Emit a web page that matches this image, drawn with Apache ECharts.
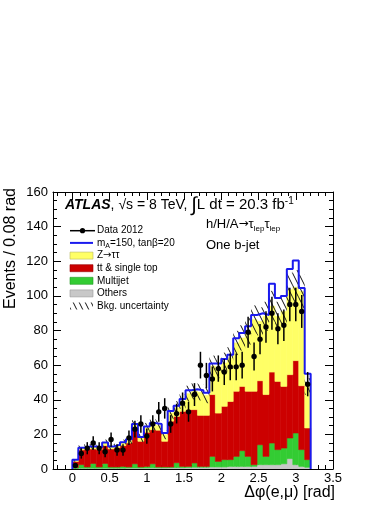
<!DOCTYPE html>
<html><head><meta charset="utf-8">
<script src="https://cdn.jsdelivr.net/npm/echarts@6/dist/echarts.min.js"></script>
<style>html,body{margin:0;padding:0;background:#fff}#c{width:390px;height:505px}</style>
</head><body><div id="c"></div>
<script>
// ---- data (bins of 0.08 rad) ----
const BIN_WIDTH = 0.08;
const binLowEdges = [0.00,0.08,0.16,0.24,0.32,0.40,0.48,0.56,0.64,0.72,0.80,0.88,0.96,1.04,1.12,1.20,1.28,1.36,1.44,1.52,1.60,1.68,1.76,1.84,1.92,2.00,2.08,2.16,2.24,2.32,2.40,2.48,2.56,2.64,2.72,2.80,2.88,2.96,3.04,3.12];
const others   = [0.3,0.5,0.5,0.5,0.5,0.5,0.5,0.5,0.5,0.6,0.6,0.6,0.6,0.7,0.7,0.7,0.8,0.8,0.8,0.9,1.0,1.0,1.0,1.2,1.2,1.2,1.5,1.5,1.5,1.5,1.5,2.5,2.5,2.5,2.5,3.0,6.0,2.5,1.5,1.0];
const multijet = [0.5,2.0,0.7,2.7,0.7,2.7,0.7,0.7,1.0,0.6,2.4,0.6,0.9,2.3,0.5,0.5,0.4,2.8,0.7,0.6,2.5,0.5,0.5,6.1,3.2,4.2,3.9,5.8,9.1,5.8,1.0,11.5,4.8,12.5,8.7,9.1,11.9,18.3,9.7,4.4];
const ttbar    = [3.5,8.5,10.4,8.4,10.0,10.3,10.4,11.1,12.0,13.8,20.7,14.8,19.7,19.7,21.2,14.8,26.4,26.8,31.8,32.8,30.8,29.5,29.5,35.7,27.9,30.8,33.6,37.6,37.1,37.6,42.4,37.0,35.7,41.0,39.4,35.6,36.6,41.8,36.9,18.3];
const ztautau  = [0.7,1.0,1.1,1.1,0.8,1.5,1.1,1.2,1.5,1.6,1.5,2.0,2.5,2.9,2.6,3.8,4.8,4.9,5.8,9.2,10.6,13.3,11.5,16.5,26.0,25.0,25.1,27.9,28.0,34.6,41.4,34.3,45.2,38.0,37.6,43.3,49.1,42.4,54.5,24.0];
const bkgUnc   = [0.8,1.6,1.7,1.7,1.6,2.0,1.7,1.8,2.0,2.2,3.0,2.4,2.9,3.1,3.0,2.6,3.6,3.9,4.2,4.6,4.7,4.7,4.5,6.0,5.8,6.0,6.3,7.0,7.3,7.6,8.2,8.1,8.4,8.9,8.4,8.7,9.8,9.9,9.7,4.8];
const signalPlusBkg = [5.4,12.3,13.0,13.0,12.5,15.3,13.0,14.0,15.5,17.2,26.0,18.5,24.5,26.5,26.0,20.8,33.5,36.5,40.5,45.5,46.0,45.5,44.0,61.0,61.0,63.5,66.0,75.5,78.5,82.4,89.0,90.0,89.0,107.0,98.8,100.0,115.5,120.5,104.6,55.0];
const data2012 = [2,9,12,15,12,10,17,11,11,18,23,26,19,26,33,35,26,32,38,33,43,60,54,52,58,56,59,59,60,79,65,75,82,90,81,83,95,95,91,49];
const dataErr  = [1.4,3.0,3.5,3.9,3.5,3.2,4.1,3.3,3.3,4.2,4.8,5.1,4.4,5.1,5.7,5.9,5.1,5.7,6.2,5.7,6.6,7.7,7.3,7.2,7.6,7.5,7.7,7.7,7.7,8.9,8.1,8.7,9.1,9.5,9.0,9.1,9.7,9.7,9.5,7.0];
const xMajorTicks = [0,0.5,1,1.5,2,2.5,3,3.5];
const yMajorTicks = [0,20,40,60,80,100,120,140,160];
const X_MIN = -0.26, X_MAX = 3.5, Y_MIN = 0, Y_MAX = 160;

const FONT = '"Liberation Sans", Arial, Helvetica, sans-serif';
const AFONT = '"DejaVu Sans", sans-serif';
const C_Z = '#ffff66', C_TT = '#cc0000', C_MJ = '#33cc33', C_OTH = '#c8c8c8', C_SIG = '#1a1aee';

// minor tick positions
const xMinorTicks = [];
for (let i = -2; i <= 35; i++) { if (i % 5 !== 0) xMinorTicks.push(+(i * 0.1).toFixed(1)); }
const yMinorTicks = [];
for (let v = 5; v < 160; v += 5) { if (v % 20 !== 0) yMinorTicks.push(v); }

// stacking
const n = binLowEdges.length;
const s0 = new Array(n).fill(0);
const s1 = others.map((v, i) => s0[i] + v);
const s2 = multijet.map((v, i) => s1[i] + v);
const s3 = ttbar.map((v, i) => s2[i] + v);
const s4 = ztautau.map((v, i) => s3[i] + v);

// hatch pattern
const hatch = document.createElement('canvas');
hatch.width = 6; hatch.height = 12;
(function () {
  const g = hatch.getContext('2d');
  g.strokeStyle = '#111'; g.lineWidth = 1.0;
  g.beginPath();
  g.moveTo(-6, 0); g.lineTo(0, 12);
  g.moveTo(0, 0); g.lineTo(6, 12);
  g.moveTo(6, 0); g.lineTo(12, 12);
  g.stroke();
})();
const hatchFill = { type: 'pattern', image: hatch, repeat: 'repeat' };

function rectSeries(name, lo, hi, fill, z, stroke) {
  return {
    type: 'custom', name, z, silent: true, clip: true,
    xAxisIndex: 0, yAxisIndex: 0,
    data: binLowEdges.map((x, i) => [x, x + BIN_WIDTH, lo[i], hi[i]]),
    encode: { x: [0, 1], y: [2, 3] },
    renderItem: (params, api) => {
      const a = api.coord([api.value(0), api.value(3)]);
      const b = api.coord([api.value(1), api.value(2)]);
      return {
        type: 'rect',
        shape: { x: a[0], y: a[1], width: b[0] - a[0], height: b[1] - a[1] },
        style: stroke ? { fill, stroke: fill, lineWidth: 0.6 } : { fill }
      };
    }
  };
}

const blueLine = [[0, 0]];
binLowEdges.forEach((x, i) => blueLine.push([x, signalPlusBkg[i]]));
blueLine.push([binLowEdges[n - 1] + BIN_WIDTH, signalPlusBkg[n - 1]]);
blueLine.push([binLowEdges[n - 1] + BIN_WIDTH, 0]);

function xAxisDef(pos, ticks, len, withLabel, withLine) {
  return {
    type: 'value', min: X_MIN, max: X_MAX, position: pos,
    axisLine: { show: withLine, onZero: false, lineStyle: { color: '#000', width: 1 } },
    axisTick: { show: true, inside: true, length: len, customValues: ticks, lineStyle: { color: '#000', width: 1 } },
    axisLabel: withLabel ? { show: true, customValues: ticks, color: '#000', fontSize: 13, fontFamily: FONT, margin: 3, formatter: v => String(v) } : { show: false },
    splitLine: { show: false }, minorTick: { show: false }
  };
}
function yAxisDef(pos, ticks, len, withLabel, withLine) {
  return {
    type: 'value', min: Y_MIN, max: Y_MAX, position: pos,
    axisLine: { show: withLine, onZero: false, lineStyle: { color: '#000', width: 1 } },
    axisTick: { show: true, inside: true, length: len, customValues: ticks, lineStyle: { color: '#000', width: 1 } },
    axisLabel: withLabel ? { show: true, customValues: ticks, color: '#000', fontSize: 13, fontFamily: FONT, margin: 5, formatter: v => String(v) } : { show: false },
    splitLine: { show: false }, minorTick: { show: false }
  };
}

// legend graphics
const LX = 70, LW = 23, LTX = 97;
const legendRows = [230.7, 242.9, 255.6, 268.2, 280.8, 293.4, 306.0];
const legendG = [];
legendG.push({ type: 'line', shape: { x1: LX, y1: legendRows[0], x2: LX + 25, y2: legendRows[0] }, style: { stroke: '#000', lineWidth: 1.5 } });
legendG.push({ type: 'circle', shape: { cx: LX + 12.5, cy: legendRows[0], r: 2.6 }, style: { fill: '#000' } });
legendG.push({ type: 'line', shape: { x1: LX, y1: legendRows[1], x2: LX + LW, y2: legendRows[1] }, style: { stroke: C_SIG, lineWidth: 2 } });
[[C_Z, '#b8b860'], [C_TT, '#990000'], [C_MJ, '#229922'], [C_OTH, '#999999']].forEach((c, i) => {
  legendG.push({ type: 'rect', shape: { x: LX, y: legendRows[i + 2] - 3.5, width: LW, height: 7 }, style: { fill: c[0], stroke: c[1], lineWidth: 0.6 } });
});
legendG.push({ type: 'rect', shape: { x: LX, y: legendRows[6] - 3.5, width: LW, height: 7 }, style: { fill: hatchFill } });
const legendTexts = [
  '{n|Data 2012}',
  '{n|m}{s|A}{n|=150, tanβ=20}',
  '{n|Z}{r|→}{n|ττ}',
  '{n|tt & single top}',
  '{n|Multijet}',
  '{n|Others}',
  '{n|Bkg. uncertainty}'
];
legendTexts.forEach((t, i) => {
  legendG.push({
    type: 'text', x: LTX, y: legendRows[i],
    style: {
      text: t, textAlign: 'left', textVerticalAlign: 'middle', fill: '#000',
      rich: {
        n: { fontSize: 10, fontFamily: FONT, lineHeight: 13, fill: '#000' },
        r: { fontSize: 10, fontFamily: AFONT, lineHeight: 13, fill: '#000' },
        s: { fontSize: 7, fontFamily: FONT, lineHeight: 8, verticalAlign: 'bottom', fill: '#000' }
      }
    }
  });
});

const chart = echarts.init(document.getElementById('c'), null, { renderer: 'canvas' });
chart.setOption({
  animation: false,
  backgroundColor: '#fff',
  grid: { left: 53, right: 57, top: 192, bottom: 36, containLabel: false },
  xAxis: [
    xAxisDef('bottom', xMajorTicks, 8, true, true),
    xAxisDef('bottom', xMinorTicks, 4, false, false),
    xAxisDef('top', xMajorTicks, 8, false, true),
    xAxisDef('top', xMinorTicks, 4, false, false)
  ],
  yAxis: [
    yAxisDef('left', yMajorTicks, 8, true, true),
    yAxisDef('left', yMinorTicks, 4, false, false),
    yAxisDef('right', yMajorTicks, 8, false, true),
    yAxisDef('right', yMinorTicks, 4, false, false)
  ],
  series: [
    rectSeries('Others', s0, s1, C_OTH, 2, true),
    rectSeries('Multijet', s1, s2, C_MJ, 2, true),
    rectSeries('tt & single top', s2, s3, C_TT, 2, true),
    rectSeries('Z→ττ', s3, s4, C_Z, 2, true),
    rectSeries('Bkg. uncertainty', s4.map((v, i) => v - bkgUnc[i]), s4.map((v, i) => v + bkgUnc[i]), hatchFill, 3, false),
    {
      type: 'line', name: 'mA=150, tanβ=20', z: 4, xAxisIndex: 0, yAxisIndex: 0,
      data: blueLine, step: 'end', symbol: 'none', silent: true,
      lineStyle: { color: C_SIG, width: 2 }
    },
    {
      type: 'custom', name: 'Data 2012', z: 5, silent: true, xAxisIndex: 0, yAxisIndex: 0,
      data: binLowEdges.map((x, i) => [x + BIN_WIDTH / 2, data2012[i], dataErr[i]]),
      encode: { x: 0, y: 1 },
      renderItem: (params, api) => {
        const x = api.value(0), v = api.value(1), e = api.value(2);
        const c = api.coord([x, v]);
        const lo = api.coord([x, Math.max(0, v - e)]);
        const hi = api.coord([x, v + e]);
        return {
          type: 'group', children: [
            { type: 'line', shape: { x1: c[0], y1: lo[1], x2: c[0], y2: hi[1] }, style: { stroke: '#000', lineWidth: 1.5 } },
            { type: 'circle', shape: { cx: c[0], cy: c[1], r: 2.7 }, style: { fill: '#000' } }
          ]
        };
      }
    }
  ],
  graphic: [
    {
      type: 'text', x: 65, y: 205, z: 10,
      style: {
        text: '{a|ATLAS}{b|, √s = 8 TeV, }{i|∫}{c|L dt = 20.3 fb}{p|-1}',
        textAlign: 'left', textVerticalAlign: 'middle',
        rich: {
          a: { fontSize: 14, fontStyle: 'italic', fontWeight: 'bold', fontFamily: FONT, lineHeight: 18, fill: '#000' },
          b: { fontSize: 14, fontFamily: FONT, lineHeight: 18, fill: '#000' },
          c: { fontSize: 15, fontFamily: FONT, lineHeight: 18, fill: '#000' },
          i: { fontSize: 20, fontFamily: FONT, lineHeight: 18, fill: '#000' },
          p: { fontSize: 10, fontFamily: FONT, lineHeight: 10, verticalAlign: 'top', fill: '#000' }
        }
      }
    },
    {
      type: 'text', x: 206, y: 224, z: 10,
      style: {
        text: '{n|h/H/A}{r|→}{n|τ}{s|lep}{n|τ}{s|lep}',
        textAlign: 'left', textVerticalAlign: 'middle',
        rich: {
          n: { fontSize: 13, fontFamily: FONT, lineHeight: 17, fill: '#000' },
          r: { fontSize: 12, fontFamily: AFONT, lineHeight: 17, fill: '#000' },
          s: { fontSize: 8, fontFamily: FONT, lineHeight: 9, verticalAlign: 'bottom', fill: '#000' }
        }
      }
    },
    {
      type: 'text', x: 206, y: 245, z: 10,
      style: { text: 'One b-jet', font: '13px ' + FONT, fill: '#000', textAlign: 'left', textVerticalAlign: 'middle' }
    },
    {
      type: 'text', x: 11, y: 188, rotation: Math.PI / 2, z: 10,
      style: { text: 'Events / 0.08 rad', font: '16px ' + FONT, fill: '#000', textAlign: 'right', textVerticalAlign: 'middle' }
    },
    {
      type: 'text', x: 335, y: 493, z: 10,
      style: { text: 'Δφ(e,μ) [rad]', font: '16px ' + FONT, fill: '#000', textAlign: 'right', textVerticalAlign: 'middle' }
    }
  ].concat(legendG.map(g => Object.assign({ z: 10 }, g)))
});
</script>
</body></html>
